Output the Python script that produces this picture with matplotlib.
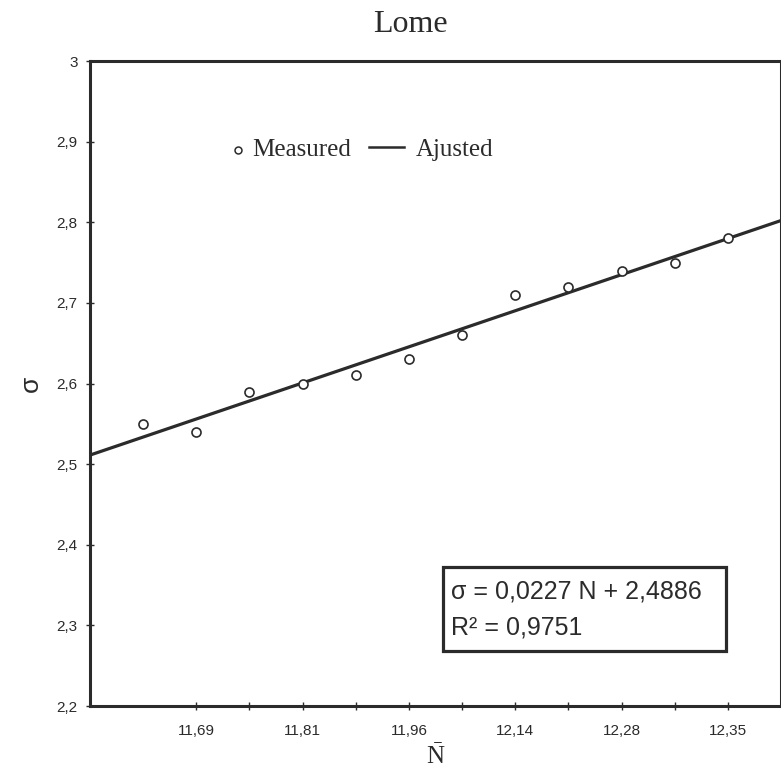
import numpy as np
import matplotlib
matplotlib.use("Agg")
import matplotlib.pyplot as plt
from matplotlib.lines import Line2D
from matplotlib.patches import Rectangle

plt.rcParams['mathtext.fontset'] = 'custom'
plt.rcParams['mathtext.rm'] = 'Liberation Serif'
plt.rcParams['mathtext.it'] = 'Liberation Serif:italic'

# ---- data ----
x_index = list(range(1, 13))
sigma_measured = [2.55, 2.54, 2.59, 2.60, 2.61, 2.63, 2.66, 2.71, 2.72, 2.74, 2.75, 2.78]
tick_positions = [2, 4, 6, 8, 10, 12]
tick_labels = ["11,69", "11,81", "11,96", "12,14", "12,28", "12,35"]
y_ticks = [2.2, 2.3, 2.4, 2.5, 2.6, 2.7, 2.8, 2.9, 3.0]
y_tick_labels = ["2,2", "2,3", "2,4", "2,5", "2,6", "2,7", "2,8", "2,9", "3"]
title = "Lome"
legend_labels = ["Measured", "Ajusted"]
equation_lines = ["σ = 0,0227 N + 2,4886", "R² = 0,9751"]

ink = '#2b2b2b'
W, H = 781, 782
fig = plt.figure(figsize=(W / 100, H / 100), dpi=100)
ax = fig.add_axes([90 / W, 76 / H, 691 / W, 645 / H])

# fitted line (least squares on measured points)
slope, intercept = np.polyfit(x_index, sigma_measured, 1)
xl = np.array([0, 13])
ax.plot(xl, slope * xl + intercept, color=ink, lw=2.3, solid_capstyle='butt')
ax.plot(x_index, sigma_measured, linestyle='none', marker='o', ms=6.5,
        mfc='white', mec=ink, mew=1.2)

ax.set_xlim(0, 13)
ax.set_ylim(2.2, 3.0)
ax.set_xticks(range(2, 13))
ax.set_xticklabels([tick_labels[tick_positions.index(t)] if t in tick_positions else ""
                    for t in range(2, 13)])
ax.set_yticks(y_ticks)
ax.set_yticklabels(y_tick_labels)
ax.tick_params(direction='inout', length=6, width=1.0, color=ink, labelcolor=ink,
               labelsize=11, pad=10)
ax.tick_params(axis='y', pad=6)
for lab in ax.get_xticklabels() + ax.get_yticklabels():
    lab.set_fontfamily('Liberation Sans')

for s in ax.spines.values():
    s.set_linewidth(2.2)
    s.set_color(ink)

ax.set_ylabel("σ", fontfamily='Liberation Sans', fontsize=19, color=ink, labelpad=10)
ax.set_xlabel(r"$\bar{\mathrm{N}}$", fontsize=18, color=ink, labelpad=4)
fig.text(410 / W, 1 - 25 / H, title, fontfamily='Liberation Serif', fontsize=23,
         color=ink, ha='center', va='center')

# legend (hand placed, figure pixel coords)
def fx(px):
    return px / W

def fy(py):
    return 1 - py / H

ly = 150
fig.add_artist(Line2D([fx(238)], [fy(ly)], transform=fig.transFigure, linestyle='none',
                      marker='o', ms=5, mfc='white', mec=ink, mew=1.1))
fig.text(fx(252), fy(ly), legend_labels[0], fontfamily='Liberation Serif', fontsize=18,
         color=ink, ha='left', va='center')
fig.add_artist(Line2D([fx(369), fx(404)], [fy(ly - 3), fy(ly - 3)], transform=fig.transFigure,
                      color=ink, lw=1.8))
fig.text(fx(416), fy(ly), legend_labels[1], fontfamily='Liberation Serif', fontsize=18,
         color=ink, ha='left', va='center')

# equation box
fig.add_artist(Rectangle((fx(443), fy(651)), (726 - 443) / W, (651 - 567) / H,
                         transform=fig.transFigure, fc='white', ec=ink, lw=2.3, zorder=5))
fig.text(fx(451), fy(592), equation_lines[0], fontfamily='Liberation Sans', fontsize=18,
         color=ink, ha='left', va='center', zorder=6)
fig.text(fx(451), fy(627), equation_lines[1], fontfamily='Liberation Sans', fontsize=18,
         color=ink, ha='left', va='center', zorder=6)

fig.savefig("out.png", dpi=100)
